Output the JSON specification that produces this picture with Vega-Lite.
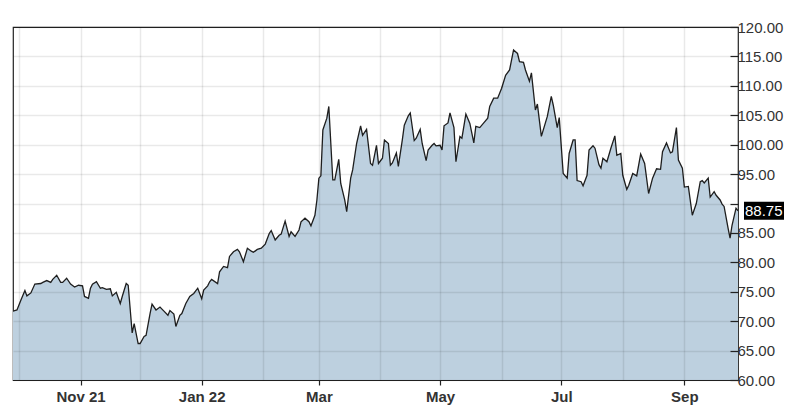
{
  "$schema": "https://vega.github.io/schema/vega-lite/v6.json",
  "autosize": "none",
  "width": 725,
  "height": 353,
  "padding": {"left": 13, "top": 27, "right": 61, "bottom": 35},
  "background": "white",
  "config": {"view": {"stroke": "#222222", "strokeWidth": 1.2}, "font": "Liberation Sans"},
  "datasets": {
    "prices": [
      {"date": "2021-09-28", "price": 71.7}, {"date": "2021-09-30", "price": 71.9}, {"date": "2021-10-02", "price": 73.6},
      {"date": "2021-10-04", "price": 75.2}, {"date": "2021-10-05", "price": 74.3}, {"date": "2021-10-07", "price": 74.8},
      {"date": "2021-10-09", "price": 76.3}, {"date": "2021-10-12", "price": 76.4}, {"date": "2021-10-13", "price": 76.6},
      {"date": "2021-10-15", "price": 76.9}, {"date": "2021-10-17", "price": 76.6}, {"date": "2021-10-18", "price": 77.1},
      {"date": "2021-10-20", "price": 77.8}, {"date": "2021-10-22", "price": 76.6}, {"date": "2021-10-23", "price": 76.6},
      {"date": "2021-10-25", "price": 77.3}, {"date": "2021-10-27", "price": 76.3}, {"date": "2021-10-29", "price": 75.8},
      {"date": "2021-10-31", "price": 76.1}, {"date": "2021-11-02", "price": 76.0}, {"date": "2021-11-03", "price": 74.2},
      {"date": "2021-11-05", "price": 73.9}, {"date": "2021-11-06", "price": 75.6}, {"date": "2021-11-07", "price": 76.3},
      {"date": "2021-11-09", "price": 76.7}, {"date": "2021-11-11", "price": 75.6}, {"date": "2021-11-12", "price": 75.7},
      {"date": "2021-11-14", "price": 75.4}, {"date": "2021-11-16", "price": 75.5}, {"date": "2021-11-17", "price": 74.3},
      {"date": "2021-11-19", "price": 74.9}, {"date": "2021-11-21", "price": 73.0}, {"date": "2021-11-22", "price": 74.2},
      {"date": "2021-11-24", "price": 76.4}, {"date": "2021-11-25", "price": 76.1}, {"date": "2021-11-27", "price": 68.0},
      {"date": "2021-11-28", "price": 69.6}, {"date": "2021-11-30", "price": 66.2}, {"date": "2021-12-01", "price": 66.2},
      {"date": "2021-12-03", "price": 67.4}, {"date": "2021-12-04", "price": 67.6}, {"date": "2021-12-06", "price": 71.3},
      {"date": "2021-12-07", "price": 72.9}, {"date": "2021-12-09", "price": 71.9}, {"date": "2021-12-11", "price": 72.4},
      {"date": "2021-12-13", "price": 71.7}, {"date": "2021-12-15", "price": 71.0}, {"date": "2021-12-16", "price": 71.8},
      {"date": "2021-12-18", "price": 71.2}, {"date": "2021-12-19", "price": 69.1}, {"date": "2021-12-21", "price": 71.0},
      {"date": "2021-12-22", "price": 71.3}, {"date": "2021-12-24", "price": 73.0}, {"date": "2021-12-26", "price": 74.2},
      {"date": "2021-12-28", "price": 74.7}, {"date": "2021-12-30", "price": 75.6}, {"date": "2022-01-01", "price": 73.8},
      {"date": "2022-01-02", "price": 75.3}, {"date": "2022-01-04", "price": 76.0}, {"date": "2022-01-05", "price": 76.7},
      {"date": "2022-01-06", "price": 77.1}, {"date": "2022-01-09", "price": 76.4}, {"date": "2022-01-10", "price": 78.4},
      {"date": "2022-01-12", "price": 79.3}, {"date": "2022-01-14", "price": 79.1}, {"date": "2022-01-15", "price": 81.0},
      {"date": "2022-01-17", "price": 81.8}, {"date": "2022-01-19", "price": 82.2}, {"date": "2022-01-20", "price": 81.8},
      {"date": "2022-01-22", "price": 80.1}, {"date": "2022-01-24", "price": 82.4}, {"date": "2022-01-26", "price": 81.9},
      {"date": "2022-01-27", "price": 81.7}, {"date": "2022-01-29", "price": 82.2}, {"date": "2022-01-31", "price": 82.4},
      {"date": "2022-02-02", "price": 83.1}, {"date": "2022-02-04", "price": 84.9}, {"date": "2022-02-05", "price": 85.4},
      {"date": "2022-02-07", "price": 83.8}, {"date": "2022-02-09", "price": 84.6}, {"date": "2022-02-10", "price": 84.8},
      {"date": "2022-02-12", "price": 87.0}, {"date": "2022-02-14", "price": 84.4}, {"date": "2022-02-15", "price": 85.2},
      {"date": "2022-02-17", "price": 84.4}, {"date": "2022-02-19", "price": 85.5}, {"date": "2022-02-20", "price": 86.9},
      {"date": "2022-02-22", "price": 87.5}, {"date": "2022-02-24", "price": 86.9}, {"date": "2022-02-25", "price": 86.2},
      {"date": "2022-02-27", "price": 88.0}, {"date": "2022-02-28", "price": 90.6}, {"date": "2022-03-01", "price": 94.3},
      {"date": "2022-03-02", "price": 94.7}, {"date": "2022-03-03", "price": 102.5}, {"date": "2022-03-05", "price": 104.5},
      {"date": "2022-03-06", "price": 106.5}, {"date": "2022-03-08", "price": 94.0}, {"date": "2022-03-09", "price": 94.0},
      {"date": "2022-03-11", "price": 97.5}, {"date": "2022-03-12", "price": 93.4}, {"date": "2022-03-14", "price": 90.6},
      {"date": "2022-03-15", "price": 88.6}, {"date": "2022-03-17", "price": 94.3}, {"date": "2022-03-18", "price": 95.7},
      {"date": "2022-03-20", "price": 100.2}, {"date": "2022-03-22", "price": 103.2}, {"date": "2022-03-23", "price": 101.6},
      {"date": "2022-03-25", "price": 102.6}, {"date": "2022-03-27", "price": 96.8}, {"date": "2022-03-28", "price": 96.5},
      {"date": "2022-03-30", "price": 99.9}, {"date": "2022-03-31", "price": 96.8}, {"date": "2022-04-02", "price": 97.7},
      {"date": "2022-04-03", "price": 100.8}, {"date": "2022-04-05", "price": 100.2}, {"date": "2022-04-06", "price": 96.5},
      {"date": "2022-04-07", "price": 96.9}, {"date": "2022-04-09", "price": 98.6}, {"date": "2022-04-10", "price": 96.3},
      {"date": "2022-04-12", "price": 100.8}, {"date": "2022-04-13", "price": 103.3}, {"date": "2022-04-15", "price": 104.9},
      {"date": "2022-04-16", "price": 105.4}, {"date": "2022-04-18", "price": 100.7}, {"date": "2022-04-19", "price": 101.1},
      {"date": "2022-04-21", "price": 102.6}, {"date": "2022-04-22", "price": 100.2}, {"date": "2022-04-24", "price": 97.3},
      {"date": "2022-04-25", "price": 99.1}, {"date": "2022-04-27", "price": 99.9}, {"date": "2022-04-28", "price": 100.2},
      {"date": "2022-04-29", "price": 99.8}, {"date": "2022-05-01", "price": 99.9}, {"date": "2022-05-02", "price": 99.1},
      {"date": "2022-05-03", "price": 103.2}, {"date": "2022-05-05", "price": 103.7}, {"date": "2022-05-06", "price": 105.4},
      {"date": "2022-05-08", "price": 102.9}, {"date": "2022-05-09", "price": 97.1}, {"date": "2022-05-11", "price": 101.4},
      {"date": "2022-05-12", "price": 101.1}, {"date": "2022-05-14", "price": 105.2}, {"date": "2022-05-16", "price": 103.6},
      {"date": "2022-05-18", "price": 100.3}, {"date": "2022-05-19", "price": 103.1}, {"date": "2022-05-21", "price": 102.9},
      {"date": "2022-05-23", "price": 103.7}, {"date": "2022-05-25", "price": 104.5}, {"date": "2022-05-26", "price": 106.5},
      {"date": "2022-05-28", "price": 107.9}, {"date": "2022-05-30", "price": 107.9}, {"date": "2022-06-01", "price": 109.6},
      {"date": "2022-06-03", "price": 111.8}, {"date": "2022-06-05", "price": 112.7}, {"date": "2022-06-07", "price": 116.1},
      {"date": "2022-06-09", "price": 115.5}, {"date": "2022-06-10", "price": 114.1}, {"date": "2022-06-12", "price": 114.0},
      {"date": "2022-06-13", "price": 112.7}, {"date": "2022-06-15", "price": 110.8}, {"date": "2022-06-16", "price": 112.2},
      {"date": "2022-06-18", "price": 105.9}, {"date": "2022-06-19", "price": 106.9}, {"date": "2022-06-21", "price": 101.4},
      {"date": "2022-06-24", "price": 104.8}, {"date": "2022-06-26", "price": 108.2}, {"date": "2022-06-27", "price": 106.7},
      {"date": "2022-06-29", "price": 102.9}, {"date": "2022-06-30", "price": 104.6}, {"date": "2022-07-02", "price": 95.1},
      {"date": "2022-07-04", "price": 94.3}, {"date": "2022-07-05", "price": 98.5}, {"date": "2022-07-07", "price": 100.8},
      {"date": "2022-07-08", "price": 100.8}, {"date": "2022-07-09", "price": 93.9}, {"date": "2022-07-11", "price": 93.7},
      {"date": "2022-07-12", "price": 93.0}, {"date": "2022-07-14", "price": 94.8}, {"date": "2022-07-15", "price": 99.1},
      {"date": "2022-07-17", "price": 99.8}, {"date": "2022-07-18", "price": 99.4}, {"date": "2022-07-20", "price": 96.6},
      {"date": "2022-07-21", "price": 96.0}, {"date": "2022-07-22", "price": 97.7}, {"date": "2022-07-24", "price": 97.1},
      {"date": "2022-07-26", "price": 99.4}, {"date": "2022-07-28", "price": 101.5}, {"date": "2022-07-29", "price": 98.2},
      {"date": "2022-07-31", "price": 98.5}, {"date": "2022-08-01", "price": 94.8}, {"date": "2022-08-03", "price": 92.4},
      {"date": "2022-08-04", "price": 93.1}, {"date": "2022-08-06", "price": 95.1}, {"date": "2022-08-08", "price": 94.7},
      {"date": "2022-08-10", "price": 98.4}, {"date": "2022-08-12", "price": 96.8}, {"date": "2022-08-14", "price": 91.7},
      {"date": "2022-08-16", "price": 94.3}, {"date": "2022-08-18", "price": 95.9}, {"date": "2022-08-20", "price": 95.8},
      {"date": "2022-08-21", "price": 98.8}, {"date": "2022-08-23", "price": 100.3}, {"date": "2022-08-25", "price": 98.6},
      {"date": "2022-08-26", "price": 98.8}, {"date": "2022-08-28", "price": 102.9}, {"date": "2022-08-29", "price": 97.4},
      {"date": "2022-08-31", "price": 96.0}, {"date": "2022-09-01", "price": 92.8}, {"date": "2022-09-03", "price": 92.9},
      {"date": "2022-09-05", "price": 88.0}, {"date": "2022-09-07", "price": 90.0}, {"date": "2022-09-09", "price": 93.7},
      {"date": "2022-09-10", "price": 93.9}, {"date": "2022-09-11", "price": 93.5}, {"date": "2022-09-13", "price": 94.3},
      {"date": "2022-09-14", "price": 91.1}, {"date": "2022-09-16", "price": 92.0}, {"date": "2022-09-17", "price": 91.4},
      {"date": "2022-09-19", "price": 90.6}, {"date": "2022-09-20", "price": 89.9}, {"date": "2022-09-21", "price": 89.5},
      {"date": "2022-09-23", "price": 85.8}, {"date": "2022-09-24", "price": 84.1}, {"date": "2022-09-25", "price": 86.3},
      {"date": "2022-09-27", "price": 89.2}, {"date": "2022-09-28", "price": 88.75}
    ],
    "last": [{"date": "2022-09-28", "price": 88.75}]
  },
  "encoding": {
    "x": {
      "field": "date", "type": "temporal",
      "scale": {"type": "utc", "domain": ["2021-09-28", "2022-09-28"]},
      "axis": {
        "title": null,
        "values": [
          {"year": 2021, "month": 10, "date": 1, "utc": true}, {"year": 2021, "month": 11, "date": 1, "utc": true},
          {"year": 2021, "month": 12, "date": 1, "utc": true}, {"year": 2022, "month": 1, "date": 1, "utc": true},
          {"year": 2022, "month": 2, "date": 1, "utc": true}, {"year": 2022, "month": 3, "date": 1, "utc": true},
          {"year": 2022, "month": 4, "date": 1, "utc": true}, {"year": 2022, "month": 5, "date": 1, "utc": true},
          {"year": 2022, "month": 6, "date": 1, "utc": true}, {"year": 2022, "month": 7, "date": 1, "utc": true},
          {"year": 2022, "month": 8, "date": 1, "utc": true}, {"year": 2022, "month": 9, "date": 1, "utc": true}
        ],
        "labelExpr": "utcmonth(datum.value) % 2 == 1 ? '' : ((utcmonth(datum.value) == 0 || utcmonth(datum.value) == 10) ? utcFormat(datum.value, '%b %y') : utcFormat(datum.value, '%b'))",
        "grid": true, "gridColor": "#000000", "gridOpacity": 0.085, "gridWidth": 1.5,
        "domain": false,
        "tickColor": "#222222", "tickSize": 5, "tickWidth": 1.2,
        "tickOpacity": {"condition": {"test": "utcmonth(datum.value) % 2 == 1", "value": 0}, "value": 1},
        "labelFontSize": 15, "labelFontWeight": "bold", "labelColor": "#333333", "labelPadding": 4,
        "labelOverlap": false, "labelFlush": false, "labelBound": false,
        "zindex": 1
      }
    },
    "y": {
      "field": "price", "type": "quantitative",
      "scale": {"domain": [60, 120], "zero": false, "nice": false},
      "axis": {
        "title": null, "orient": "right",
        "values": [60, 65, 70, 75, 80, 85, 90, 95, 100, 105, 110, 115, 120],
        "labelExpr": "datum.value == 90 ? '' : format(datum.value, '.2f')",
        "grid": true, "gridColor": "#000000", "gridOpacity": 0.085, "gridWidth": 1.5,
        "domain": false,
        "tickColor": "#222222", "tickSize": -8, "tickWidth": 1.2,
        "labelFontSize": 15, "labelColor": "#333333", "labelPadding": 7,
        "labelOverlap": false, "labelFlush": false, "labelBound": false,
        "zindex": 1
      }
    }
  },
  "layer": [
    {
      "data": {"name": "prices"},
      "mark": {"type": "area", "color": "#bdd0df", "opacity": 1, "clip": true, "line": {"color": "#1e1e1e", "strokeWidth": 1.3}}
    },
    {
      "data": {"name": "last"},
      "mark": {"type": "point", "shape": "M0.3,-0.45L2.3,-0.45L2.3,0.45L0.3,0.45Z", "size": 1600, "filled": true, "color": "#000000", "opacity": 1}
    },
    {
      "data": {"name": "last"},
      "mark": {"type": "text", "align": "left", "baseline": "middle", "dx": 7, "color": "#ffffff", "fontSize": 15},
      "encoding": {
        "text": {"field": "price", "type": "quantitative", "format": ".2f"}
      }
    }
  ]
}
